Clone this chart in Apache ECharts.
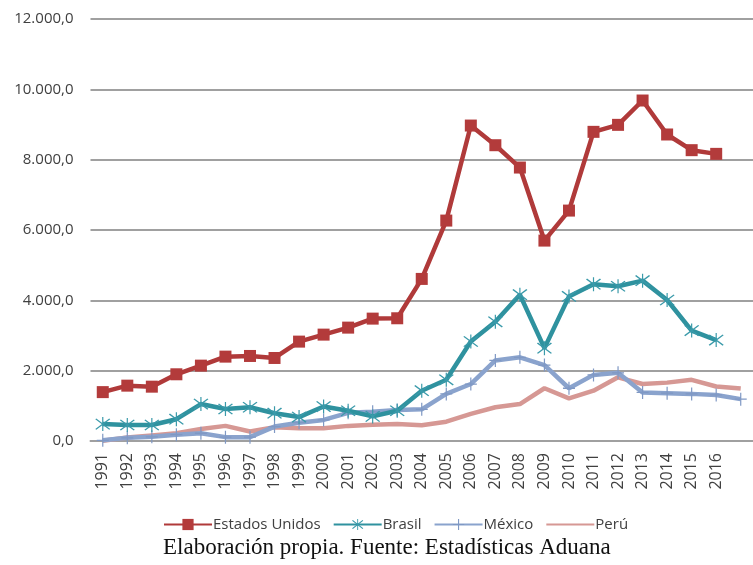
<!DOCTYPE html>
<html>
<head>
<meta charset="utf-8">
<script src="https://cdn.jsdelivr.net/npm/echarts@6/dist/echarts.min.js"></script>
<style>
  html, body { margin: 0; padding: 0; background: #ffffff; }
  #chart { width: 753px; height: 565px; }
</style>
</head>
<body>
<div id="chart"></div>
<script>
// Years on the category axis (the last one runs off the right edge)
const years = ['1991','1992','1993','1994','1995','1996','1997','1998','1999','2000',
  '2001','2002','2003','2004','2005','2006','2007','2008','2009','2010',
  '2011','2012','2013','2014','2015','2016','2017'];

// Values by destination
const estadosUnidos = [1390,1574,1545,1897,2143,2399,2418,2361,2826,3025,3224,3480,3490,4609,6268,8970,8411,7776,5699,6552,8791,8990,9682,8716,8270,8165,null];
const brasil = [480,455,455,620,1050,910,960,790,680,980,860,700,860,1430,1740,2830,3390,4160,2640,4110,4460,4400,4560,4010,3140,2870,null];
const mexico = [20,90,120,180,220,110,110,410,520,600,800,830,880,900,1340,1620,2290,2380,2160,1500,1880,1940,1380,1360,1340,1310,1190];
const peru = [10,100,160,220,340,430,270,390,360,360,430,460,480,450,550,770,960,1050,1500,1210,1430,1810,1620,1660,1740,1550,1490];

// Y-axis ticks
const yTicks = { min: 0, max: 12000, step: 2000 };

const fontUI = '"Open Sans", "DejaVu Sans", sans-serif';

// Spanish-style number: thousands with ".", one decimal with ","
function fmt(v) {
  const s = Math.round(v).toString().replace(/\B(?=(\d{3})+(?!\d))/g, '.');
  return s + ',0';
}

const asterisk = 'path://M9.2 0H10.8V20H9.2Z M0 3.2L1.4 2L20 16.8L18.6 18Z M18.6 2L20 3.2L1.4 18L0 16.8Z';
const plus = 'path://M9 0H11V20H9Z M0 9H20V11H0Z';

const chart = echarts.init(document.getElementById('chart'), null, { renderer: 'canvas' });

chart.setOption({
  animation: false,
  backgroundColor: '#ffffff',
  grid: { left: 90.5, right: -9.8, top: 19, bottom: 124, containLabel: false },
  xAxis: {
    type: 'category',
    data: years,
    boundaryGap: true,
    axisLine: { show: true, lineStyle: { color: '#a0a0a0', width: 2 } },
    axisTick: { show: false },
    axisLabel: {
      rotate: 90,
      margin: 12,
      color: '#404040',
      fontFamily: fontUI,
      fontSize: 16,
      interval: function (i) { return i < years.length - 1; }
    }
  },
  yAxis: {
    type: 'value',
    min: yTicks.min,
    max: yTicks.max,
    interval: yTicks.step,
    axisLine: { show: false },
    axisTick: { show: false },
    splitLine: { lineStyle: { color: '#a0a0a0', width: 2 } },
    axisLabel: {
      margin: 17,
      color: '#404040',
      fontFamily: fontUI,
      fontSize: 15,
      formatter: fmt
    }
  },
  legend: {
    top: 512,
    left: 158,
    itemWidth: 48,
    itemHeight: 14,
    itemGap: 12,
    textStyle: { color: '#404040', fontFamily: fontUI, fontSize: 15, padding: [0, 0, 0, -4] },
    data: [
      { name: 'Estados Unidos' },
      { name: 'Brasil' },
      { name: 'México' },
      { name: 'Perú', itemStyle: { opacity: 0 } }
    ]
  },
  graphic: [{
    type: 'text',
    left: 163,
    top: 536,
    style: {
      text: 'Elaboración propia. Fuente: Estadísticas Aduana',
      font: '23px "Liberation Serif", "Times New Roman", serif',
      fill: '#111111'
    }
  }],
  series: [
    {
      name: 'Estados Unidos',
      type: 'line',
      data: estadosUnidos,
      symbol: 'rect',
      symbolSize: 12,
      lineStyle: { color: '#b03a3a', width: 4.5 },
      itemStyle: { color: '#b33b3b' },
      z: 5
    },
    {
      name: 'Brasil',
      type: 'line',
      data: brasil,
      symbol: asterisk,
      symbolSize: [15, 14],
      lineStyle: { color: '#2f929f', width: 4.5 },
      itemStyle: { color: '#3a9aaa' },
      z: 4
    },
    {
      name: 'México',
      type: 'line',
      data: mexico,
      symbol: plus,
      symbolSize: [12, 13],
      lineStyle: { color: '#8aa3cd', width: 4.5 },
      itemStyle: { color: '#7f98c4' },
      z: 3
    },
    {
      name: 'Perú',
      type: 'line',
      data: peru,
      symbol: 'none',
      lineStyle: { color: '#d69894', width: 4.5 },
      itemStyle: { color: '#d69894' },
      z: 2
    }
  ]
});
</script>
</body>
</html>
